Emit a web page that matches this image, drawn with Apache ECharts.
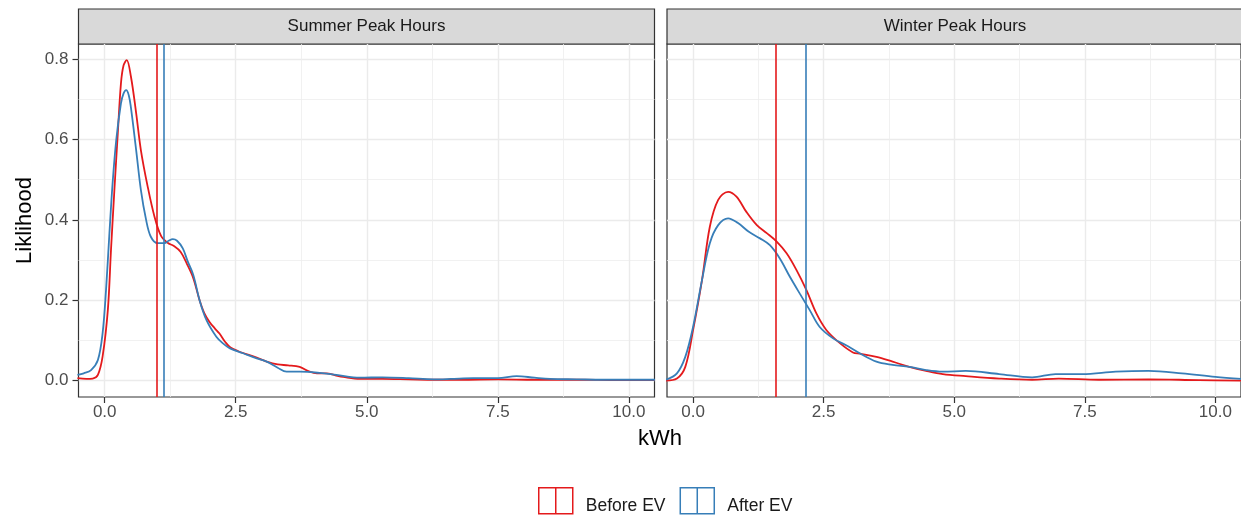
<!DOCTYPE html>
<html>
<head>
<meta charset="utf-8">
<script src="https://cdn.jsdelivr.net/npm/echarts@6/dist/echarts.min.js"></script>
<style>
  html, body { margin: 0; padding: 0; background: #fff; }
  #main { width: 1241px; height: 520px; }
</style>
</head>
<body>
<div id="main"></div>
<script>
// facet titles, legend names, ticks
var panels = ['Summer Peak Hours', 'Winter Peak Hours'];
var groups = ['Before EV', 'After EV'];
var xTicks = [0, 2.5, 5, 7.5, 10];
var xMinor = [1.25, 3.75, 6.25, 8.75];
var yTicks = [0, 0.2, 0.4, 0.6, 0.8];
var yMinor = [0.1, 0.3, 0.5, 0.7];

// density curves [kWh, likelihood]
var summerBefore = [[-0.52,0.006],[-0.35,0.004],[-0.23,0.005],[-0.13,0.014],[-0.04,0.06],[0.06,0.176],[0.12,0.325],[0.185,0.475],[0.25,0.616],[0.31,0.74],[0.36,0.785],[0.42,0.798],[0.5,0.757],[0.6,0.666],[0.69,0.574],[0.82,0.483],[0.95,0.408],[1.075,0.36],[1.2,0.343],[1.32,0.335],[1.45,0.32],[1.57,0.29],[1.69,0.255],[1.81,0.2],[1.9,0.168],[2.0,0.146],[2.1,0.13],[2.19,0.117],[2.3,0.096],[2.4,0.082],[2.55,0.073],[2.7,0.066],[2.9,0.057],[3.09,0.047],[3.3,0.04],[3.5,0.038],[3.72,0.034],[3.91,0.022],[4.05,0.018],[4.23,0.018],[4.4,0.013],[4.55,0.009],[4.87,0.004],[5.3,0.004],[5.8,0.003],[6.3,0.002],[6.8,0.002],[7.5,0.003],[8.2,0.002],[9,0.002],[9.8,0.001],[10.5,0.001]];
var summerAfter = [[-0.52,0.014],[-0.4,0.018],[-0.26,0.026],[-0.13,0.051],[-0.04,0.118],[0.025,0.225],[0.09,0.367],[0.15,0.49],[0.22,0.599],[0.31,0.69],[0.36,0.715],[0.41,0.723],[0.46,0.71],[0.5,0.68],[0.6,0.574],[0.69,0.475],[0.79,0.4],[0.88,0.358],[1.01,0.342],[1.14,0.342],[1.22,0.348],[1.3,0.352],[1.38,0.348],[1.49,0.329],[1.58,0.298],[1.69,0.263],[1.81,0.2],[1.94,0.151],[2.13,0.109],[2.25,0.093],[2.39,0.08],[2.64,0.068],[2.9,0.055],[3.09,0.047],[3.3,0.032],[3.47,0.022],[3.72,0.022],[4.1,0.019],[4.42,0.014],[4.87,0.007],[5.3,0.008],[5.8,0.006],[6.27,0.003],[6.6,0.004],[7.03,0.006],[7.5,0.006],[7.86,0.011],[8.2,0.007],[8.5,0.004],[9,0.003],[9.5,0.002],[10.5,0.002]];
var winterBefore = [[-0.52,0.0],[-0.31,0.005],[-0.15,0.034],[0.0,0.126],[0.17,0.25],[0.32,0.383],[0.48,0.45],[0.67,0.47],[0.83,0.458],[1.02,0.42],[1.22,0.387],[1.41,0.367],[1.6,0.346],[1.79,0.317],[1.98,0.275],[2.17,0.225],[2.36,0.167],[2.55,0.126],[2.81,0.093],[3.06,0.07],[3.19,0.067],[3.51,0.059],[3.82,0.047],[4.14,0.034],[4.46,0.024],[4.78,0.016],[5.22,0.011],[5.86,0.005],[6.49,0.002],[7.0,0.005],[7.77,0.002],[8.72,0.003],[9.68,0.001],[10.5,0.0]];
var winterAfter = [[-0.52,0.002],[-0.31,0.018],[-0.15,0.059],[0.0,0.134],[0.17,0.25],[0.32,0.342],[0.48,0.387],[0.67,0.404],[0.86,0.392],[1.06,0.371],[1.28,0.354],[1.47,0.337],[1.66,0.304],[1.85,0.259],[2.04,0.217],[2.23,0.176],[2.42,0.134],[2.68,0.105],[2.93,0.088],[3.19,0.068],[3.51,0.047],[3.82,0.039],[4.14,0.034],[4.46,0.026],[4.78,0.022],[5.22,0.024],[5.86,0.016],[6.49,0.008],[6.94,0.016],[7.45,0.016],[8.09,0.022],[8.72,0.024],[9.36,0.018],[10.0,0.009],[10.5,0.004]];

// mean lines [before, after]
var meanSummer = [1.0, 1.12];
var meanWinter = [1.58, 2.16];

var RED = '#E41A1C', BLUE = '#377EB8';
var FONT = 'Liberation Sans';

var chart = echarts.init(document.getElementById('main'));

function xAxisMain(gi) {
    return {
        type: 'value', gridIndex: gi, min: -0.5, max: 10.49,
        axisLine: {show: false, onZero: false},
        axisTick: {show: true, length: 6, customValues: xTicks, lineStyle: {color: '#333', width: 1.2}},
        axisLabel: {customValues: xTicks, margin: 7, fontSize: 17, color: '#4D4D4D', fontFamily: FONT,
            formatter: function (v) { return v.toFixed(1); }},
        splitLine: {show: true, lineStyle: {color: '#EBEBEB', width: 1.4}}
    };
}
function xAxisMinor(gi) {
    return {
        type: 'value', gridIndex: gi, min: -0.5, max: 10.49, position: 'top',
        axisLine: {show: false, onZero: false}, axisLabel: {show: false},
        axisTick: {show: false, customValues: xMinor},
        splitLine: {show: true, lineStyle: {color: '#EEEEEE', width: 0.8}}
    };
}
function yAxisMain(gi, labels) {
    return {
        type: 'value', gridIndex: gi, min: -0.041, max: 0.838,
        name: labels ? 'Liklihood' : '', nameLocation: 'middle', nameGap: 43,
        nameTextStyle: {fontSize: 22, color: '#000', fontFamily: FONT},
        axisLine: {show: false, onZero: false},
        axisTick: {show: labels, length: 6, customValues: yTicks, lineStyle: {color: '#333', width: 1.2}},
        axisLabel: {show: labels, customValues: yTicks, margin: 10, fontSize: 17, color: '#4D4D4D', fontFamily: FONT,
            formatter: function (v) { return v.toFixed(1); }},
        splitLine: {show: true, lineStyle: {color: '#EBEBEB', width: 1.4}}
    };
}
function yAxisMinor(gi) {
    return {
        type: 'value', gridIndex: gi, min: -0.041, max: 0.838, position: 'right',
        axisLine: {show: false, onZero: false}, axisLabel: {show: false},
        axisTick: {show: false, customValues: yMinor},
        splitLine: {show: true, lineStyle: {color: '#EEEEEE', width: 0.8}}
    };
}
function curve(name, data, gi, color, meanX) {
    return {
        name: name, type: 'line', xAxisIndex: gi, yAxisIndex: gi, data: data,
        showSymbol: false, symbol: 'none', smooth: 0.35, z: 3,
        lineStyle: {color: color, width: 1.8}, itemStyle: {color: color},
        markLine: {
            silent: true, symbol: ['none', 'none'], label: {show: false},
            lineStyle: {color: color, type: 'solid', width: 1.6},
            data: [{xAxis: meanX}]
        }
    };
}

var legendIcon = 'path://M0,0H34V26H0ZM17,0V26';

chart.setOption({
    animation: false,
    backgroundColor: '#fff',
    grid: [
        {left: 78.5, top: 44, width: 576, height: 353, show: true, backgroundColor: '#fff', borderColor: '#333', borderWidth: 1.2},
        {left: 667, top: 44, width: 576, height: 353, show: true, backgroundColor: '#fff', borderColor: '#333', borderWidth: 1.2}
    ],
    xAxis: [xAxisMain(0), xAxisMain(1), xAxisMinor(0), xAxisMinor(1)],
    yAxis: [yAxisMain(0, true), yAxisMain(1, false), yAxisMinor(0), yAxisMinor(1)],
    legend: {
        left: 538, top: 487, padding: 0, itemWidth: 34, itemHeight: 26, itemGap: 14,
        icon: legendIcon,
        formatter: '{t|{name}}',
        textStyle: {
            fontSize: 17.5, color: '#1A1A1A', fontFamily: FONT,
            rich: {t: {fontSize: 17.5, color: '#1A1A1A', fontFamily: FONT, padding: [10, 0, 0, 8]}}
        },
        data: [
            {name: groups[0], itemStyle: {color: 'transparent', borderColor: RED, borderWidth: 1.5}},
            {name: groups[1], itemStyle: {color: 'transparent', borderColor: BLUE, borderWidth: 1.5}}
        ]
    },
    graphic: [
        {type: 'rect', shape: {x: 78.5, y: 9, width: 576, height: 35}, style: {fill: '#D9D9D9', stroke: '#333', lineWidth: 1.2}},
        {type: 'text', x: 366.5, y: 26.5, style: {text: panels[0], fill: '#1A1A1A', fontSize: 17, fontFamily: FONT, align: 'center', verticalAlign: 'middle'}},
        {type: 'rect', shape: {x: 667, y: 9, width: 576, height: 35}, style: {fill: '#D9D9D9', stroke: '#333', lineWidth: 1.2}},
        {type: 'text', x: 955, y: 26.5, style: {text: panels[1], fill: '#1A1A1A', fontSize: 17, fontFamily: FONT, align: 'center', verticalAlign: 'middle'}},
        {type: 'text', x: 660, y: 439, style: {text: 'kWh', fill: '#000', fontSize: 22, fontFamily: FONT, align: 'center', verticalAlign: 'middle'}}
    ],
    series: [
        curve(groups[0], summerBefore, 0, RED, meanSummer[0]),
        curve(groups[1], summerAfter, 0, BLUE, meanSummer[1]),
        curve(groups[0], winterBefore, 1, RED, meanWinter[0]),
        curve(groups[1], winterAfter, 1, BLUE, meanWinter[1])
    ]
});
</script>
</body>
</html>
